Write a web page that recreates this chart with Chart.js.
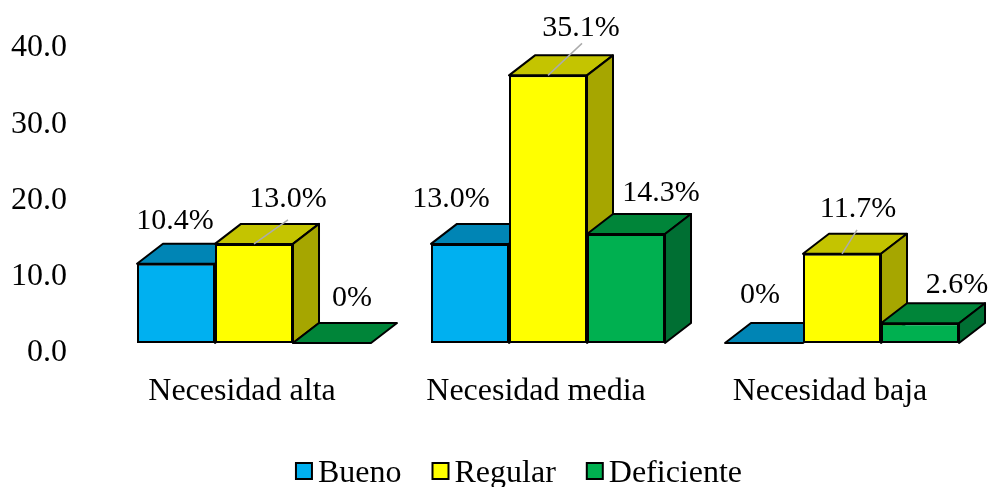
<!DOCTYPE html>
<html><head><meta charset="utf-8">
<style>html,body{margin:0;padding:0;background:#fff}#w{width:993px;height:487px;position:relative}</style>
<script src="https://cdn.jsdelivr.net/npm/chart.js@4"></script>
</head><body><div id="w"><canvas id="c"></canvas></div>
<script>
const categories = ['Necesidad alta', 'Necesidad media', 'Necesidad baja'];
const seriesNames = ['Bueno', 'Regular', 'Deficiente'];
const bueno = [10.4, 13.0, 0];
const regular = [13.0, 35.1, 11.7];
const deficiente = [0, 14.3, 2.6];
const yTicks = [0, 10, 20, 30, 40];

const FONT = '"Liberation Serif"';
const FS = 32;
const LABEL_FS = 30;
const DEPTH = {x: 26, y: 20};
const LEGEND_SHIFT = 19.5;
const front = ['#00B0F0', '#FFFF00', '#00B050'];
const topFace = ['#0085B5', '#C4C400', '#008539'];
const sideFace = ['#00688E', '#A6A600', '#006F33'];
// label placement relative to the bar's front-top centre [series][category]
const labelShift = [
  [[-1, -43], [-19, -45], [-4, -48]],
  [[34, -45], [33, -47], [16, -45]],
  [[20, -45], [35, -41], [37, -38]]
];
const leader = [[0,0,0],[1,1,1],[0,0,0]];
const leaderEnd = [[0,0,0],[[34,-24],[34,-32],[15,-24]],[0,0,0]];

function poly(ctx, pts, fill) {
  ctx.beginPath();
  pts.forEach((p, i) => i ? ctx.lineTo(p[0], p[1]) : ctx.moveTo(p[0], p[1]));
  ctx.closePath();
  ctx.fillStyle = fill;
  ctx.fill();
  ctx.stroke();
}

const bars3d = {
  id: 'bars3d',
  afterLayout(chart) {
    const lg = chart.legend;
    lg.left += LEGEND_SHIFT;
    lg.right += LEGEND_SHIFT;
    lg.legendHitBoxes.forEach(h => { h.left += LEGEND_SHIFT; });
  },
  beforeDatasetsDraw(chart) {
    const ctx = chart.ctx;
    ctx.save();
    ctx.strokeStyle = '#000';
    ctx.lineWidth = 2;
    ctx.lineJoin = 'round';
    categories.forEach((_, ci) => {
      seriesNames.forEach((_, si) => {
        const b = chart.getDatasetMeta(si).data[ci];
        const l = b.x - b.width / 2, r = b.x + b.width / 2, t = b.y, f = b.base;
        const dx = DEPTH.x, dy = DEPTH.y;
        poly(ctx, [[l, t], [r, t], [r + dx, t - dy], [l + dx, t - dy]], topFace[si]);
        if (f - t > 0.5) poly(ctx, [[r, t], [r + dx, t - dy], [r + dx, f - dy], [r, f]], sideFace[si]);
      });
    });
    ctx.restore();
  },
  afterDatasetsDraw(chart) {
    const ctx = chart.ctx;
    ctx.save();
    ctx.font = LABEL_FS + 'px ' + FONT;
    ctx.textAlign = 'center';
    ctx.textBaseline = 'middle';
    seriesNames.forEach((_, si) => {
      const vals = chart.data.datasets[si].data;
      chart.getDatasetMeta(si).data.forEach((b, ci) => {
        if (leader[si][ci]) {
          const e = leaderEnd[si][ci];
          ctx.strokeStyle = '#ABABAB';
          ctx.lineWidth = 1.5;
          ctx.beginPath();
          ctx.moveTo(b.x, b.y);
          ctx.lineTo(b.x + e[0], b.y + e[1]);
          ctx.stroke();
        }
        const s = labelShift[si][ci];
        const v = vals[ci];
        ctx.fillStyle = '#000';
        ctx.fillText(v === 0 ? '0%' : v.toFixed(1) + '%', b.x + s[0], b.y + s[1]);
      });
    });
    ctx.restore();
  },
  afterDraw(chart) {
    // legend swatches, placed on the library's own legend layout
    const ctx = chart.ctx;
    ctx.save();
    ctx.strokeStyle = '#000';
    ctx.lineWidth = 2;
    chart.legend.legendHitBoxes.forEach((h, i) => {
      const y = h.top + h.height / 2 - 11;
      ctx.fillStyle = front[i];
      ctx.fillRect(h.left, y, 16, 16);
      ctx.strokeRect(h.left, y, 16, 16);
    });
    ctx.restore();
  }
};

new Chart(document.getElementById('c'), {
  type: 'bar',
  plugins: [bars3d],
  data: {
    labels: categories,
    datasets: [bueno, regular, deficiente].map((d, i) => ({
      label: seriesNames[i],
      data: d,
      backgroundColor: front[i],
      borderColor: '#000',
      borderWidth: 2,
      borderSkipped: false,
      barPercentage: 1,
      categoryPercentage: 0.796
    }))
  },
  options: {
    responsive: true,
    maintainAspectRatio: false,
    animation: false,
    layout: {padding: {top: 38, left: 10, right: 4, bottom: -13}},
    plugins: {
      tooltip: {enabled: false},
      legend: {
        position: 'bottom',
        labels: {
          color: '#000',
          font: {family: FONT, size: FS},
          boxWidth: 6,
          boxHeight: 6,
          padding: 31,
          generateLabels(chart) {
            return seriesNames.map((n, i) => ({
              text: n, fillStyle: 'rgba(0,0,0,0)', strokeStyle: 'rgba(0,0,0,0)',
              lineWidth: 0, datasetIndex: i, fontColor: '#000'
            }));
          }
        }
      }
    },
    scales: {
      x: {
        grid: {display: false},
        border: {display: false},
        ticks: {
          color: '#000', font: {family: FONT, size: FS},
          autoSkip: false, maxRotation: 0, padding: 21, labelOffset: -12
        },
        afterFit(s) { s.height = 84; }
      },
      y: {
        min: 0, max: 40,
        grid: {display: false},
        border: {display: false},
        afterBuildTicks(s) { s.ticks = yTicks.map(v => ({value: v})); },
        afterFit(s) { s.width = 97; s.paddingTop = 0; s.paddingBottom = 0; },
        ticks: {
          color: '#000', font: {family: FONT, size: FS},
          padding: 32, labelOffset: 10,
          callback: v => Number(v).toFixed(1)
        }
      }
    }
  }
});
</script></body></html>
